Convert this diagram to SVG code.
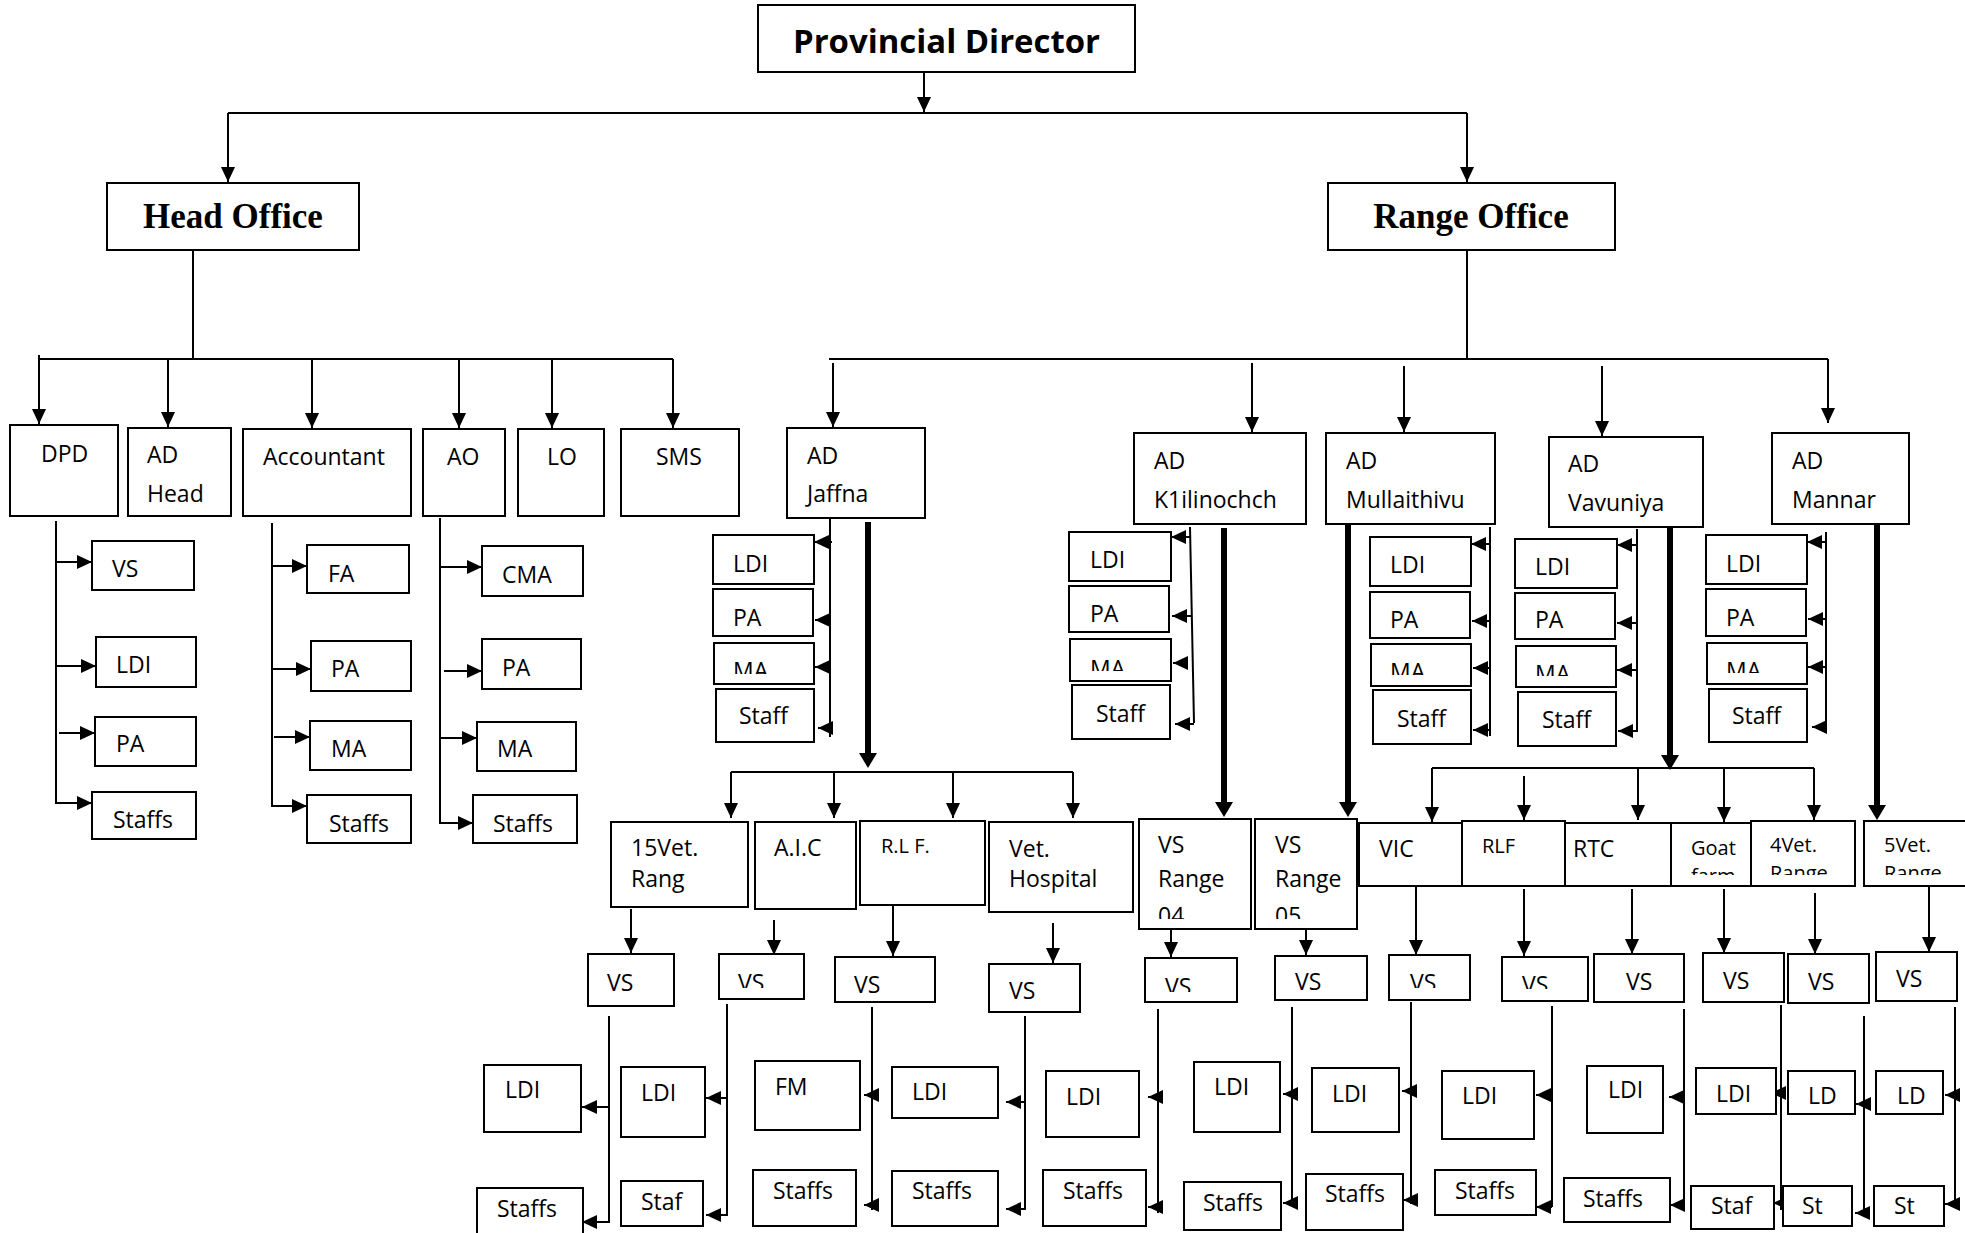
<svg xmlns="http://www.w3.org/2000/svg" width="1965" height="1233" viewBox="0 0 1965 1233">
<style>
.b{fill:#fff;stroke:#000;stroke-width:2}
.t{font-family:"Open Sans","Liberation Sans",sans-serif;font-size:23px;fill:#000}
.s{font-size:20px}
.hd{font-family:"Liberation Serif","Times New Roman",serif;font-weight:bold;font-size:35px;fill:#000;text-anchor:middle}
.pd{font-family:"Open Sans","Liberation Sans",sans-serif;font-weight:bold;font-size:32px;fill:#000}
.c{fill:none;stroke:#000;stroke-width:2}
.a{marker-end:url(#ah)}
.k{fill:none;stroke:#000;stroke-width:6;marker-end:url(#ahk)}
</style>
<defs>
<marker id="ah" markerUnits="userSpaceOnUse" markerWidth="15" markerHeight="14" refX="15" refY="7" orient="auto"><path d="M0,0L15,7L0,14z" fill="#000"/></marker>
<marker id="ahk" markerUnits="userSpaceOnUse" markerWidth="15" markerHeight="18" refX="0" refY="9" orient="auto"><path d="M0,0L15,9L0,18z" fill="#000"/></marker>
<clipPath id="cJM"><rect x="700" y="640" width="130" height="34"/></clipPath>
<clipPath id="cKM"><rect x="1060" y="640" width="130" height="31"/></clipPath>
<clipPath id="cMM"><rect x="1360" y="640" width="130" height="35"/></clipPath>
<clipPath id="cVM"><rect x="1505" y="640" width="130" height="36"/></clipPath>
<clipPath id="cNM"><rect x="1700" y="640" width="130" height="33"/></clipPath>
<clipPath id="c04"><rect x="1139" y="819" width="220" height="100"/></clipPath>
<clipPath id="cR2"><rect x="1660" y="821" width="320" height="54"/></clipPath>
<clipPath id="cVa"><rect x="715" y="950" width="95" height="38"/></clipPath>
<clipPath id="cVb"><rect x="1140" y="950" width="100" height="42"/></clipPath>
<clipPath id="cVc"><rect x="1385" y="950" width="90" height="38"/></clipPath>
<clipPath id="cVd"><rect x="1498" y="950" width="95" height="39"/></clipPath>
</defs>

<!-- connectors -->
<g id="connectors">
<path class="c a" d="M924,72V112"/>
<path class="c" d="M228,113H1467"/>
<path class="c a" d="M228,113V182"/>
<path class="c a" d="M1467,113V182"/>
<path class="c" d="M193,250V359M39,355V359H673"/>
<path class="c a" d="M39,359V424"/>
<path class="c a" d="M168,359V427"/>
<path class="c a" d="M312,359V428"/>
<path class="c a" d="M459,359V428"/>
<path class="c a" d="M552,359V428"/>
<path class="c a" d="M673,359V428"/>
<path class="c" d="M1467,250V359M829,359H1828"/>
<path class="c a" d="M833,363V427"/>
<path class="c a" d="M1252,363V432"/>
<path class="c a" d="M1404,366V432"/>
<path class="c a" d="M1602,366V436"/>
<path class="c a" d="M1828,359V423"/>

<!-- head office sections -->
<path class="c a" d="M56,521V803H92"/>
<path class="c a" d="M56,562H92"/>
<path class="c a" d="M56,666H96"/>
<path class="c a" d="M59,733H95"/>
<path class="c a" d="M272,523V806H307"/>
<path class="c a" d="M272,566H307"/>
<path class="c a" d="M272,669H311"/>
<path class="c a" d="M274,737H310"/>
<path class="c a" d="M440,518V823H473"/>
<path class="c a" d="M440,567H482"/>
<path class="c a" d="M444,671H482"/>
<path class="c a" d="M440,738H477"/>

<!-- district staff lists -->
<path class="c" d="M830,513V737"/>
<path class="c a" d="M832,542H814"/>
<path class="c a" d="M830,620H815"/>
<path class="c a" d="M830,667H815"/>
<path class="c a" d="M833,728H818"/>
<path class="c" d="M1190,527L1194,723"/>
<path class="c a" d="M1190,537H1171"/>
<path class="c a" d="M1191,616H1172"/>
<path class="c a" d="M1188,663H1173"/>
<path class="c a" d="M1194,724H1175"/>
<path class="c" d="M1490,527V736"/>
<path class="c a" d="M1490,544H1471"/>
<path class="c a" d="M1490,621H1472"/>
<path class="c a" d="M1490,668H1473"/>
<path class="c a" d="M1490,730H1473"/>
<path class="c" d="M1637,529V732"/>
<path class="c a" d="M1637,545H1617"/>
<path class="c a" d="M1637,623H1617"/>
<path class="c a" d="M1637,670H1617"/>
<path class="c a" d="M1637,731H1618"/>
<path class="c" d="M1826,532V733"/>
<path class="c a" d="M1826,542H1807"/>
<path class="c a" d="M1826,619H1808"/>
<path class="c a" d="M1826,667H1808"/>
<path class="c a" d="M1826,727H1812"/>

<!-- heavy district links -->
<path class="k" d="M868,522V753"/>
<path class="k" d="M1224,528V802"/>
<path class="k" d="M1348,524V802"/>
<path class="k" d="M1670,525V755"/>
<path class="k" d="M1877,523V805"/>

<!-- range unit buses -->
<path class="c" d="M731,772H1073"/>
<path class="c a" d="M731,772V818"/>
<path class="c a" d="M834,772V818"/>
<path class="c a" d="M953,772V818"/>
<path class="c a" d="M1073,772V818"/>
<path class="c" d="M1432,768H1814"/>
<path class="c a" d="M1432,768V822"/>
<path class="c a" d="M1524,776V820"/>
<path class="c a" d="M1638,768V820"/>
<path class="c a" d="M1724,768V822"/>
<path class="c a" d="M1814,768V820"/>

<!-- unit to VS -->
<path class="c a" d="M631,909V953"/>
<path class="c a" d="M774,920V955"/>
<path class="c a" d="M893,905V956"/>
<path class="c a" d="M1053,923V963"/>
<path class="c a" d="M1171,929V957"/>
<path class="c a" d="M1306,929V955"/>
<path class="c a" d="M1416,886V955"/>
<path class="c a" d="M1524,889V956"/>
<path class="c a" d="M1632,889V954"/>
<path class="c a" d="M1724,889V953"/>
<path class="c a" d="M1815,893V954"/>
<path class="c a" d="M1929,887V952"/>

<!-- VS to field staff -->
<path class="c a" d="M609,1016V1222H582"/>
<path class="c a" d="M609,1107H582"/>
<path class="c a" d="M727,1004V1215H706"/>
<path class="c a" d="M727,1098H706"/>
<path class="c" d="M872,1007V1210"/>
<path class="c a" d="M879,1095H864"/>
<path class="c a" d="M879,1205H864"/>
<path class="c a" d="M1025,1016V1209H1006"/>
<path class="c a" d="M1025,1102H1006"/>
<path class="c" d="M1158,1009V1213"/>
<path class="c a" d="M1163,1097H1148"/>
<path class="c a" d="M1163,1207H1148"/>
<path class="c" d="M1292,1007V1203"/>
<path class="c a" d="M1298,1094H1283"/>
<path class="c a" d="M1298,1203H1283"/>
<path class="c" d="M1411,1002V1204"/>
<path class="c a" d="M1417,1091H1402"/>
<path class="c a" d="M1418,1200H1403"/>
<path class="c" d="M1552,1006V1207"/>
<path class="c a" d="M1552,1095H1536"/>
<path class="c a" d="M1552,1207H1536"/>
<path class="c" d="M1684,1009V1205"/>
<path class="c a" d="M1684,1097H1669"/>
<path class="c a" d="M1685,1205H1670"/>
<path class="c" d="M1781,1005V1210"/>
<path class="c a" d="M1786,1093H1771"/>
<path class="c a" d="M1788,1203H1773"/>
<path class="c" d="M1864,1016V1213"/>
<path class="c a" d="M1870,1104H1856"/>
<path class="c a" d="M1870,1213H1855"/>
<path class="c" d="M1955,1007V1206"/>
<path class="c a" d="M1958,1095H1945"/>
<path class="c a" d="M1958,1204H1945"/>
</g>

<!-- top levels -->
<g id="provincial-director"><rect class="b" x="758" y="5" width="377" height="67"/><text class="pd" x="793" y="53" textLength="307" lengthAdjust="spacingAndGlyphs">Provincial Director</text></g>
<g id="head-office"><rect class="b" x="107" y="183" width="252" height="67"/><text class="hd" x="233" y="228">Head Office</text></g>
<g id="range-office"><rect class="b" x="1328" y="183" width="287" height="67"/><text class="hd" x="1471" y="228">Range Office</text></g>

<!-- head office sections -->
<g id="dpd"><rect class="b" x="10" y="425" width="108" height="91"/><text class="t" x="41" y="462">DPD</text></g>
<g id="ad-head"><rect class="b" x="128" y="428" width="103" height="88"/><text class="t" x="147" y="463">AD</text><text class="t" x="147" y="502">Head</text></g>
<g id="accountant"><rect class="b" x="243" y="429" width="168" height="87"/><text class="t" x="263" y="465">Accountant</text></g>
<g id="ao"><rect class="b" x="423" y="429" width="82" height="87"/><text class="t" x="447" y="465">AO</text></g>
<g id="lo"><rect class="b" x="518" y="429" width="86" height="87"/><text class="t" x="547" y="465">LO</text></g>
<g id="sms"><rect class="b" x="621" y="429" width="118" height="87"/><text class="t" x="656" y="465">SMS</text></g>

<g id="dpd-vs"><rect class="b" x="92" y="541" width="102" height="49"/><text class="t" x="112" y="577">VS</text></g>
<g id="dpd-ldi"><rect class="b" x="96" y="637" width="100" height="50"/><text class="t" x="116" y="673">LDI</text></g>
<g id="dpd-pa"><rect class="b" x="95" y="717" width="101" height="49"/><text class="t" x="116" y="752">PA</text></g>
<g id="dpd-staffs"><rect class="b" x="92" y="792" width="104" height="47"/><text class="t" x="113" y="828">Staffs</text></g>

<g id="acc-fa"><rect class="b" x="307" y="545" width="102" height="48"/><text class="t" x="328" y="582">FA</text></g>
<g id="acc-pa"><rect class="b" x="311" y="641" width="100" height="50"/><text class="t" x="331" y="677">PA</text></g>
<g id="acc-ma"><rect class="b" x="310" y="721" width="101" height="49"/><text class="t" x="331" y="757">MA</text></g>
<g id="acc-staffs"><rect class="b" x="307" y="795" width="104" height="48"/><text class="t" x="329" y="832">Staffs</text></g>

<g id="ao-cma"><rect class="b" x="482" y="546" width="101" height="50"/><text class="t" x="502" y="583">CMA</text></g>
<g id="ao-pa"><rect class="b" x="482" y="639" width="99" height="50"/><text class="t" x="502" y="676">PA</text></g>
<g id="ao-ma"><rect class="b" x="477" y="722" width="99" height="49"/><text class="t" x="497" y="757">MA</text></g>
<g id="ao-staffs"><rect class="b" x="473" y="795" width="104" height="48"/><text class="t" x="493" y="832">Staffs</text></g>

<!-- district directors -->
<g id="ad-jaffna"><rect class="b" x="787" y="428" width="138" height="90"/><text class="t" x="807" y="464">AD</text><text class="t" x="807" y="502">Jaffna</text></g>
<g id="ad-kilinochchi"><rect class="b" x="1134" y="433" width="172" height="91"/><text class="t" x="1154" y="469">AD</text><text class="t" x="1154" y="508">K1ilinochch</text></g>
<g id="ad-mullaithivu"><rect class="b" x="1326" y="433" width="169" height="91"/><text class="t" x="1346" y="469">AD</text><text class="t" x="1346" y="508">Mullaithivu</text></g>
<g id="ad-vavuniya"><rect class="b" x="1549" y="437" width="154" height="90"/><text class="t" x="1568" y="472">AD</text><text class="t" x="1568" y="511">Vavuniya</text></g>
<g id="ad-mannar"><rect class="b" x="1772" y="433" width="137" height="91"/><text class="t" x="1792" y="469">AD</text><text class="t" x="1792" y="508">Mannar</text></g>

<!-- district staff -->
<g id="jaf-ldi"><rect class="b" x="713" y="535" width="101" height="49"/><text class="t" x="733" y="572">LDI</text></g>
<g id="jaf-pa"><rect class="b" x="713" y="589" width="100" height="47"/><text class="t" x="733" y="626">PA</text></g>
<g id="jaf-ma"><rect class="b" x="714" y="643" width="100" height="41"/><text class="t" x="733" y="679" clip-path="url(#cJM)">MA</text></g>
<g id="jaf-staff"><rect class="b" x="716" y="689" width="98" height="53"/><text class="t" x="739" y="724">Staff</text></g>

<g id="kil-ldi"><rect class="b" x="1069" y="532" width="102" height="49"/><text class="t" x="1090" y="568">LDI</text></g>
<g id="kil-pa"><rect class="b" x="1069" y="586" width="100" height="46"/><text class="t" x="1090" y="622">PA</text></g>
<g id="kil-ma"><rect class="b" x="1070" y="639" width="101" height="42"/><text class="t" x="1090" y="677" clip-path="url(#cKM)">MA</text></g>
<g id="kil-staff"><rect class="b" x="1072" y="685" width="98" height="54"/><text class="t" x="1096" y="722">Staff</text></g>

<g id="mul-ldi"><rect class="b" x="1370" y="537" width="101" height="49"/><text class="t" x="1390" y="573">LDI</text></g>
<g id="mul-pa"><rect class="b" x="1370" y="592" width="100" height="46"/><text class="t" x="1390" y="628">PA</text></g>
<g id="mul-ma"><rect class="b" x="1371" y="644" width="100" height="42"/><text class="t" x="1390" y="680" clip-path="url(#cMM)">MA</text></g>
<g id="mul-staff"><rect class="b" x="1373" y="690" width="98" height="54"/><text class="t" x="1397" y="727">Staff</text></g>

<g id="vav-ldi"><rect class="b" x="1515" y="539" width="102" height="49"/><text class="t" x="1535" y="575">LDI</text></g>
<g id="vav-pa"><rect class="b" x="1515" y="593" width="100" height="46"/><text class="t" x="1535" y="628">PA</text></g>
<g id="vav-ma"><rect class="b" x="1516" y="646" width="100" height="41"/><text class="t" x="1535" y="682" clip-path="url(#cVM)">MA</text></g>
<g id="vav-staff"><rect class="b" x="1518" y="692" width="98" height="54"/><text class="t" x="1542" y="728">Staff</text></g>

<g id="man-ldi"><rect class="b" x="1706" y="535" width="101" height="49"/><text class="t" x="1726" y="572">LDI</text></g>
<g id="man-pa"><rect class="b" x="1706" y="589" width="100" height="47"/><text class="t" x="1726" y="626">PA</text></g>
<g id="man-ma"><rect class="b" x="1707" y="643" width="100" height="41"/><text class="t" x="1726" y="679" clip-path="url(#cNM)">MA</text></g>
<g id="man-staff"><rect class="b" x="1709" y="689" width="98" height="53"/><text class="t" x="1732" y="724">Staff</text></g>

<!-- range units -->
<g id="u-15vet"><rect class="b" x="611" y="822" width="137" height="85"/><text class="t" x="631" y="856">15Vet.</text><text class="t" x="631" y="887">Rang</text></g>
<g id="u-aic"><rect class="b" x="755" y="822" width="101" height="87"/><text class="t" x="774" y="856">A.I.C</text></g>
<g id="u-rlf1"><rect class="b" x="860" y="821" width="125" height="84"/><text class="t s" x="881" y="853">R.L F.</text></g>
<g id="u-vethosp"><rect class="b" x="989" y="822" width="144" height="90"/><text class="t" x="1009" y="857">Vet.</text><text class="t" x="1009" y="887">Hospital</text></g>
<g id="u-range04"><rect class="b" x="1139" y="819" width="112" height="110"/><text class="t" x="1158" y="853">VS</text><text class="t" x="1158" y="887">Range</text><text class="t" x="1158" y="924" clip-path="url(#c04)">04</text></g>
<g id="u-range05"><rect class="b" x="1255" y="819" width="102" height="110"/><text class="t" x="1275" y="853">VS</text><text class="t" x="1275" y="887">Range</text><text class="t" x="1275" y="924" clip-path="url(#c04)">05</text></g>
<g id="u-vic"><rect class="b" x="1359" y="823" width="103" height="63"/><text class="t" x="1379" y="857">VIC</text></g>
<g id="u-rlf2"><rect class="b" x="1462" y="821" width="103" height="65"/><text class="t s" x="1482" y="853">RLF</text></g>
<g id="u-rtc"><rect class="b" x="1565" y="823" width="106" height="63"/><text class="t" x="1573" y="857">RTC</text></g>
<g id="u-goat"><rect class="b" x="1671" y="823" width="80" height="63"/><text class="t s" x="1691" y="855">Goat</text><text class="t s" x="1691" y="883" clip-path="url(#cR2)">farm</text></g>
<g id="u-4vet"><rect class="b" x="1751" y="821" width="104" height="65"/><text class="t s" x="1770" y="852">4Vet.</text><text class="t s" x="1770" y="880" clip-path="url(#cR2)">Range</text></g>
<g id="u-5vet"><rect class="b" x="1864" y="821" width="110" height="65"/><text class="t s" x="1884" y="852">5Vet.</text><text class="t s" x="1884" y="880" clip-path="url(#cR2)">Range</text></g>

<!-- VS per unit -->
<g id="vs-15vet"><rect class="b" x="588" y="954" width="86" height="52"/><text class="t" x="607" y="991">VS</text></g>
<g id="vs-aic"><rect class="b" x="719" y="954" width="85" height="45"/><text class="t" x="738" y="991" clip-path="url(#cVa)">VS</text></g>
<g id="vs-rlf1"><rect class="b" x="835" y="957" width="100" height="45"/><text class="t" x="854" y="993">VS</text></g>
<g id="vs-vethosp"><rect class="b" x="989" y="964" width="91" height="48"/><text class="t" x="1009" y="999">VS</text></g>
<g id="vs-range04"><rect class="b" x="1145" y="958" width="92" height="44"/><text class="t" x="1165" y="995" clip-path="url(#cVb)">VS</text></g>
<g id="vs-range05"><rect class="b" x="1275" y="956" width="92" height="44"/><text class="t" x="1295" y="990">VS</text></g>
<g id="vs-vic"><rect class="b" x="1389" y="955" width="81" height="45"/><text class="t" x="1410" y="991" clip-path="url(#cVc)">VS</text></g>
<g id="vs-rlf2"><rect class="b" x="1502" y="957" width="86" height="44"/><text class="t" x="1522" y="993" clip-path="url(#cVd)">VS</text></g>
<g id="vs-rtc"><rect class="b" x="1594" y="954" width="90" height="48"/><text class="t" x="1626" y="990">VS</text></g>
<g id="vs-goat"><rect class="b" x="1703" y="953" width="81" height="49"/><text class="t" x="1723" y="989">VS</text></g>
<g id="vs-4vet"><rect class="b" x="1788" y="954" width="81" height="49"/><text class="t" x="1808" y="990">VS</text></g>
<g id="vs-5vet"><rect class="b" x="1876" y="952" width="81" height="49"/><text class="t" x="1896" y="987">VS</text></g>

<!-- field staff per unit -->
<g id="f-15vet-ldi"><rect class="b" x="484" y="1065" width="97" height="67"/><text class="t" x="505" y="1098">LDI</text></g>
<g id="f-15vet-staffs"><rect class="b" x="477" y="1188" width="106" height="52"/><text class="t" x="497" y="1217">Staffs</text></g>
<g id="f-aic-ldi"><rect class="b" x="621" y="1067" width="84" height="70"/><text class="t" x="641" y="1101">LDI</text></g>
<g id="f-aic-staf"><rect class="b" x="621" y="1181" width="82" height="45"/><text class="t" x="641" y="1210">Staf</text></g>
<g id="f-rlf1-fm"><rect class="b" x="755" y="1061" width="105" height="69"/><text class="t" x="775" y="1095">FM</text></g>
<g id="f-rlf1-staffs"><rect class="b" x="753" y="1170" width="103" height="56"/><text class="t" x="773" y="1199">Staffs</text></g>
<g id="f-vh-ldi"><rect class="b" x="892" y="1067" width="106" height="51"/><text class="t" x="912" y="1100">LDI</text></g>
<g id="f-vh-staffs"><rect class="b" x="892" y="1171" width="106" height="55"/><text class="t" x="912" y="1199">Staffs</text></g>
<g id="f-r04-ldi"><rect class="b" x="1046" y="1071" width="93" height="66"/><text class="t" x="1066" y="1105">LDI</text></g>
<g id="f-r04-staffs"><rect class="b" x="1043" y="1170" width="103" height="56"/><text class="t" x="1063" y="1199">Staffs</text></g>
<g id="f-r05-ldi"><rect class="b" x="1194" y="1062" width="86" height="70"/><text class="t" x="1214" y="1095">LDI</text></g>
<g id="f-r05-staffs"><rect class="b" x="1184" y="1182" width="97" height="48"/><text class="t" x="1203" y="1211">Staffs</text></g>
<g id="f-vic-ldi"><rect class="b" x="1312" y="1068" width="87" height="64"/><text class="t" x="1332" y="1102">LDI</text></g>
<g id="f-vic-staffs"><rect class="b" x="1306" y="1174" width="97" height="56"/><text class="t" x="1325" y="1202">Staffs</text></g>
<g id="f-rlf2-ldi"><rect class="b" x="1442" y="1071" width="92" height="68"/><text class="t" x="1462" y="1104">LDI</text></g>
<g id="f-rlf2-staffs"><rect class="b" x="1435" y="1170" width="101" height="45"/><text class="t" x="1455" y="1199">Staffs</text></g>
<g id="f-rtc-ldi"><rect class="b" x="1587" y="1066" width="76" height="67"/><text class="t" x="1608" y="1098">LDI</text></g>
<g id="f-rtc-staffs"><rect class="b" x="1564" y="1178" width="106" height="44"/><text class="t" x="1583" y="1207">Staffs</text></g>
<g id="f-goat-ldi"><rect class="b" x="1696" y="1068" width="80" height="46"/><text class="t" x="1716" y="1102">LDI</text></g>
<g id="f-goat-staf"><rect class="b" x="1691" y="1186" width="83" height="43"/><text class="t" x="1711" y="1214">Staf</text></g>
<g id="f-4vet-ld"><rect class="b" x="1788" y="1071" width="67" height="43"/><text class="t" x="1808" y="1104">LD</text></g>
<g id="f-4vet-st"><rect class="b" x="1783" y="1186" width="69" height="40"/><text class="t" x="1802" y="1214">St</text></g>
<g id="f-5vet-ld"><rect class="b" x="1876" y="1071" width="67" height="43"/><text class="t" x="1897" y="1104">LD</text></g>
<g id="f-5vet-st"><rect class="b" x="1874" y="1186" width="70" height="40"/><text class="t" x="1894" y="1214">St</text></g>
</svg>
